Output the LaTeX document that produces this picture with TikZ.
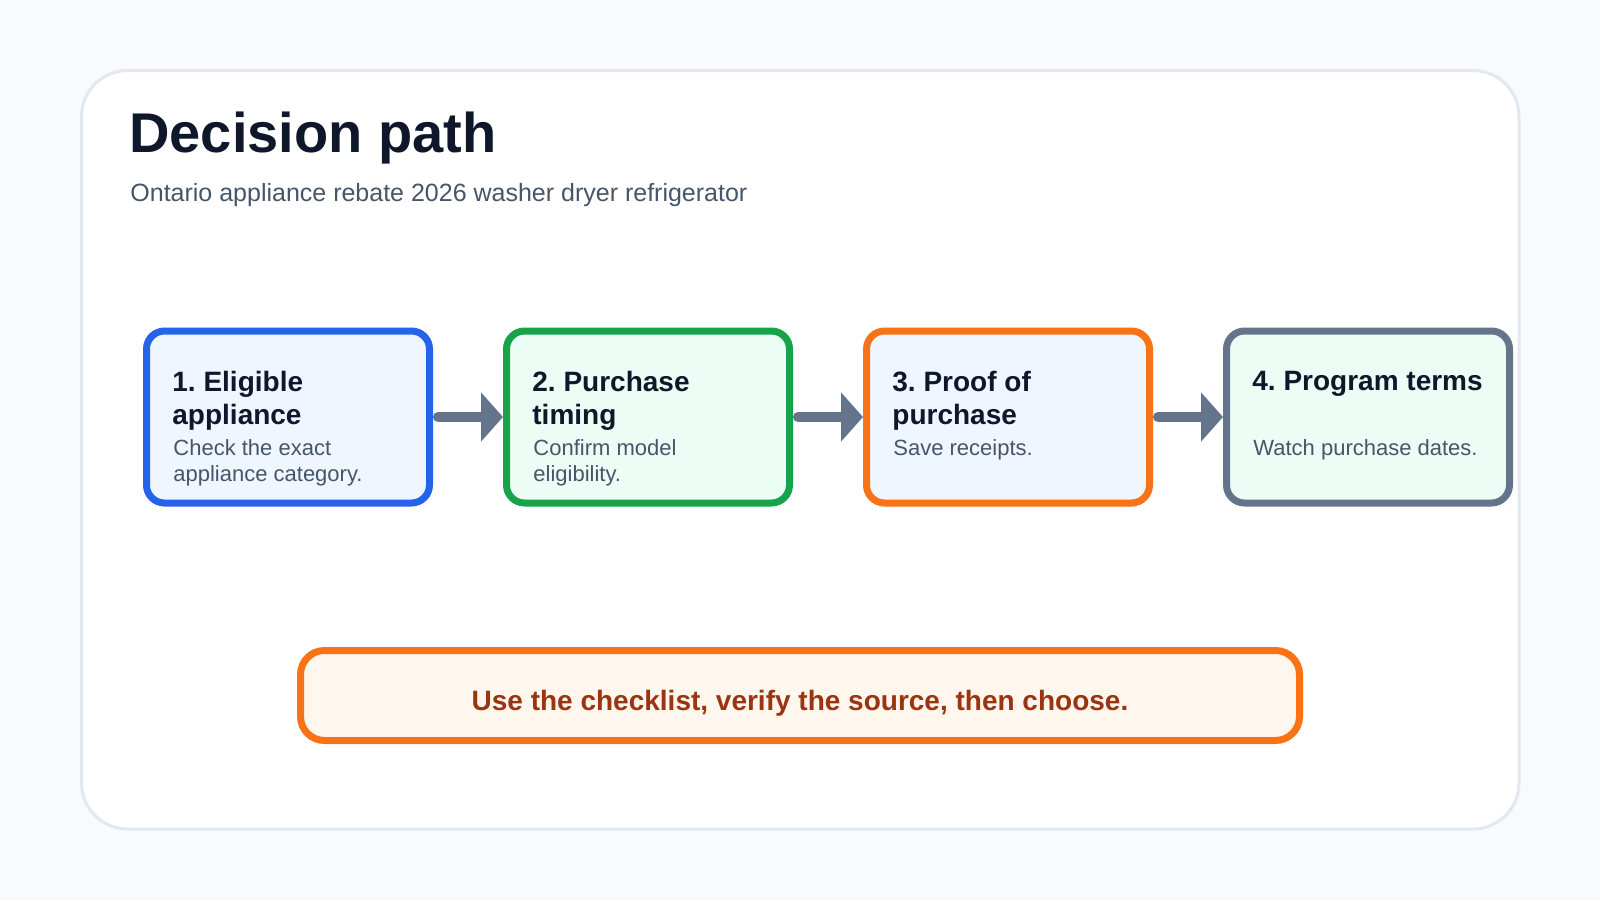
\documentclass[tikz,border=0pt]{standalone}
\usepackage{fontspec}
\setmainfont{Liberation Sans}
\usetikzlibrary{arrows.meta}
\definecolor{pagebg}{HTML}{F8FAFC}
\definecolor{cardline}{HTML}{E2E8F0}
\definecolor{ink}{HTML}{0F172A}
\definecolor{muted}{HTML}{475569}
\definecolor{stepblue}{HTML}{2563EB}
\definecolor{stepgreen}{HTML}{16A34A}
\definecolor{steporange}{HTML}{F97316}
\definecolor{stepslate}{HTML}{64748B}
\definecolor{fillblue}{HTML}{EFF6FF}
\definecolor{fillmint}{HTML}{ECFDF5}
\definecolor{fillcream}{HTML}{FFF7ED}
\definecolor{notebrown}{HTML}{9A3412}
\frenchspacing
\begin{document}
\begin{tikzpicture}[x=0.5pt,y=-0.5pt,
  stepbox/.style={draw, line width=3.5pt, rounded corners=9pt,
    minimum width=141.5pt, minimum height=86pt, inner sep=0pt},
  steptitle/.style={anchor=north west, align=left, inner sep=0pt, text=ink,
    font=\fontsize{14}{16.75}\selectfont\bfseries},
  stepnote/.style={anchor=north west, align=left, inner sep=0pt, text=muted,
    font=\fontsize{11}{13.3}\selectfont},
  flowarrow/.style={draw=stepslate, line width=5pt, line cap=round, shorten <=2.5pt,
    -{Triangle[length=11pt,width=24pt]}}]
  \useasboundingbox[fill=pagebg] (0,0) rectangle (1600,900);
  \draw[fill=white, draw=cardline, line width=1.5pt, rounded corners=23pt]
    (81.5,70.5) rectangle (1519,829);
  \node[anchor=base west, inner sep=0pt, text=ink,
    font=\fontsize{28}{34}\selectfont\bfseries] (title) at (129,152) {Decision path};
  \node[anchor=base west, inner sep=0pt, text=muted,
    font=\fontsize{12.5}{15}\selectfont] (subtitle) at (130,201)
    {Ontario appliance rebate 2026 washer dryer refrigerator};
  \node[stepbox, draw=stepblue, fill=fillblue] (box1) at (288,417) {};
  \node[stepbox, draw=stepgreen, fill=fillmint] (box2) at (648,417) {};
  \node[stepbox, draw=steporange, fill=fillblue] (box3) at (1008,417) {};
  \node[stepbox, draw=stepslate, fill=fillmint] (box4) at (1368,417) {};
  \node[steptitle] (title1) at ([xshift=14.5pt,yshift=-21.5pt]box1.north west) {1. Eligible\\appliance};
  \node[steptitle] (title2) at ([xshift=14.5pt,yshift=-21.5pt]box2.north west) {2. Purchase\\timing};
  \node[steptitle] (title3) at ([xshift=14.5pt,yshift=-21.5pt]box3.north west) {3. Proof of\\purchase};
  \node[steptitle] (title4) at ([xshift=14.5pt,yshift=-21.5pt]box4.north west) {4. Program terms};
  \node[stepnote] (note1) at ([xshift=15pt,yshift=-55.7pt]box1.north west) {Check the exact\\appliance category.};
  \node[stepnote] (note2) at ([xshift=15pt,yshift=-55.7pt]box2.north west) {Confirm model\\eligibility.};
  \node[stepnote] (note3) at ([xshift=15pt,yshift=-55.7pt]box3.north west) {Save receipts.};
  \node[stepnote] (note4) at ([xshift=15pt,yshift=-55.7pt]box4.north west) {Watch purchase dates.};
  \foreach \a/\b in {1/2,2/3,3/4} {
    \draw[flowarrow] (box\a.east) -- (box\b.west);
  }
  \node[draw=steporange, fill=fillcream, line width=3.5pt, rounded corners=12pt,
    minimum width=499.5pt, minimum height=45pt, inner sep=0pt] (banner) at (800,695.5) {};
  \node[anchor=base, inner sep=0pt, text=notebrown,
    font=\fontsize{14}{16.75}\selectfont\bfseries] (bannertext) at ([yshift=-7.25pt]banner.center)
    {Use the checklist, verify the source, then choose.};
\end{tikzpicture}
\end{document}
